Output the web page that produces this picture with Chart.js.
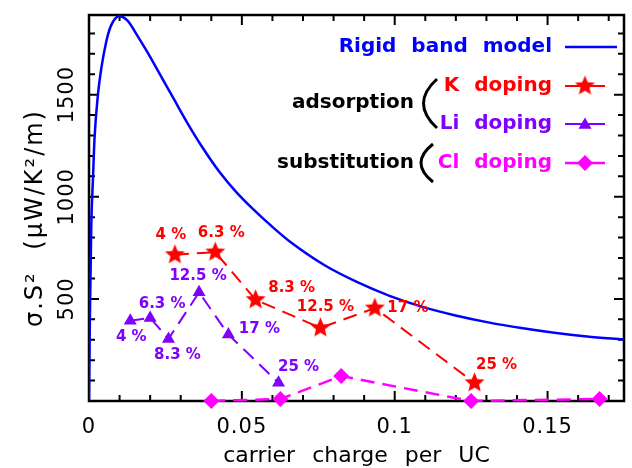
<!DOCTYPE html>
<html>
<head>
<meta charset="utf-8">
<script src="https://cdn.jsdelivr.net/npm/chart.js@4/dist/chart.umd.min.js"></script>
<style>
  html, body { margin: 0; padding: 0; background: #fff; }
  canvas { display: block; }
</style>
</head>
<body>
<canvas id="chart" width="632" height="468"></canvas>
<script>
// rigid band model curve
const rigidX = [0, 0.0003, 0.00075, 0.0013, 0.0018, 0.0029, 0.004, 0.0056, 0.0072, 0.0099, 0.0126,
  0.0158, 0.0191, 0.0234, 0.0277, 0.032, 0.0374, 0.0427, 0.0481, 0.0535, 0.0611, 0.066, 0.0768,
  0.0876, 0.0983, 0.1091, 0.1199, 0.1306, 0.1414, 0.1522, 0.1629, 0.1748];
const rigidY = [0, 420, 861, 1089, 1284, 1496, 1626, 1757, 1838, 1884, 1862,
  1789, 1708, 1594, 1480, 1366, 1235, 1121, 1024, 942, 838, 777, 667,
  583, 515, 461, 419, 385, 357, 334, 316, 301];

// K doping (adsorption)
const kX = [0.0281, 0.0413, 0.0545, 0.0757, 0.0935, 0.1261];
const kY = [716, 729, 496, 358, 455, 89];
const kLabels = ["4 %", "6.3 %", "8.3 %", "12.5 %", "17 %", "25 %"];

// Li doping (adsorption)
const liX = [0.0135, 0.020, 0.026, 0.036, 0.0456, 0.062];
const liY = [393, 407, 304, 532, 325, 89];
const liLabels = ["4 %", "6.3 %", "8.3 %", "12.5 %", "17 %", "25 %"];

// Cl doping (substitution)
const clX = [0.040, 0.0626, 0.0825, 0.125, 0.167];
const clY = [0, 10, 122, 0, 10];

// axes
const xTicks = [0, 0.05, 0.1, 0.15];
const xTickLabels = ["0", "0.05", "0.1", "0.15"];
const yTicks = [500, 1000, 1500];
const yTickLabels = ["500", "1000", "1500"];

const BLUE = "#0000ff", RED = "#ff0000", PURPLE = "#7f00ff", MAGENTA = "#ff00ff";
const FONT = "'DejaVu Sans', sans-serif";

// label offsets from their point, in pixels
const kLabelOffsets = [[-4, -20], [6, -19], [36, -12], [5, -21], [33, 0], [22, -18]];
const liLabelOffsets = [[1, 16], [12, -14], [9, 16], [-1, -16], [31, -6], [20, -16]];

function starImage(r, color) {
  const c = document.createElement("canvas");
  const s = Math.ceil(r * 2 + 2);
  c.width = c.height = s;
  const g = c.getContext("2d");
  g.fillStyle = color;
  g.beginPath();
  for (let i = 0; i < 10; i++) {
    const rad = i % 2 ? r * 0.45 : r;
    const ang = -Math.PI / 2 + i * Math.PI / 5;
    g.lineTo(s / 2 + rad * Math.cos(ang), s / 2 + rad * Math.sin(ang));
  }
  g.closePath();
  g.fill();
  return c;
}
const star = starImage(10.5, RED);

const pts = (xs, ys) => xs.map((x, i) => ({ x, y: ys[i] }));

function drawTri(ctx, x, y, r, color) {
  ctx.fillStyle = color;
  ctx.beginPath();
  for (let i = 0; i < 3; i++) {
    const a = i * 2 * Math.PI / 3;
    ctx.lineTo(x + Math.sin(a) * r, y - Math.cos(a) * r);
  }
  ctx.closePath();
  ctx.fill();
}
function drawDiamond(ctx, x, y, r, color) {
  ctx.fillStyle = color;
  ctx.beginPath();
  ctx.moveTo(x, y - r); ctx.lineTo(x + r, y); ctx.lineTo(x, y + r); ctx.lineTo(x - r, y);
  ctx.closePath();
  ctx.fill();
}
function brace(ctx, x0, y0, cx, x1, y1) {
  ctx.beginPath();
  ctx.moveTo(x0, y0);
  ctx.quadraticCurveTo(cx, (y0 + y1) / 2, x1, y1);
  ctx.stroke();
}

const decor = {
  id: "decor",
  beforeDatasetsDraw(chart) {
    const { ctx, chartArea: a, scales: { x, y } } = chart;
    ctx.save();
    ctx.strokeStyle = "#000";
    ctx.lineWidth = 2;
    // inward ticks on all four sides
    for (let i = 0; i * 0.01 <= x.max + 1e-9; i++) {
      const px = x.getPixelForValue(i * 0.01);
      const len = i % 5 === 0 ? 10 : 6;
      ctx.beginPath();
      ctx.moveTo(px, a.bottom); ctx.lineTo(px, a.bottom - len);
      ctx.moveTo(px, a.top); ctx.lineTo(px, a.top + len);
      ctx.stroke();
    }
    for (let i = 0; i * 100 <= y.max; i++) {
      const py = y.getPixelForValue(i * 100);
      const len = i % 5 === 0 ? 10 : 6;
      ctx.beginPath();
      ctx.moveTo(a.left, py); ctx.lineTo(a.left + len, py);
      ctx.moveTo(a.right, py); ctx.lineTo(a.right - len, py);
      ctx.stroke();
    }
    ctx.lineWidth = 2.5;
    ctx.strokeRect(a.left, a.top, a.right - a.left, a.bottom - a.top);

    // tick labels
    ctx.fillStyle = "#000";
    ctx.font = "21px " + FONT;
    ctx.letterSpacing = "1px";
    ctx.textAlign = "center";
    ctx.textBaseline = "alphabetic";
    xTicks.forEach((v, i) => ctx.fillText(xTickLabels[i], x.getPixelForValue(v), 433));
    yTicks.forEach((v, i) => {
      ctx.save();
      ctx.translate(73, y.getPixelForValue(v));
      ctx.rotate(-Math.PI / 2);
      ctx.fillText(yTickLabels[i], 0, 0);
      ctx.restore();
    });
    // axis titles
    ctx.font = "22px " + FONT;
    ctx.letterSpacing = "0px";
    ctx.wordSpacing = "10px";
    ctx.fillText("carrier charge per UC", (a.left + a.right) / 2, 462);
    ctx.save();
    ctx.translate(42, 218);
    ctx.rotate(-Math.PI / 2);
    ctx.font = "24px " + FONT;
    ctx.letterSpacing = "2px";
    ctx.wordSpacing = "12px";
    ctx.fillText("\u03c3.S\u00b2 (\u03bcW/K\u00b2/m)", 0, 0);
    ctx.restore();
    ctx.restore();
  },
  afterDatasetsDraw(chart) {
    const { ctx, scales: { x, y } } = chart;
    ctx.save();
    ctx.font = "bold 15px " + FONT;
    ctx.textAlign = "center";
    ctx.textBaseline = "middle";
    ctx.fillStyle = RED;
    kLabels.forEach((t, i) => ctx.fillText(t, x.getPixelForValue(kX[i]) + kLabelOffsets[i][0], y.getPixelForValue(kY[i]) + kLabelOffsets[i][1]));
    ctx.fillStyle = PURPLE;
    liLabels.forEach((t, i) => ctx.fillText(t, x.getPixelForValue(liX[i]) + liLabelOffsets[i][0], y.getPixelForValue(liY[i]) + liLabelOffsets[i][1]));

    // legend
    ctx.font = "bold 20px " + FONT;
    ctx.wordSpacing = "8px";
    ctx.textAlign = "right";
    const rows = [["Rigid band model", BLUE, 47], ["K doping", RED, 86], ["Li doping", PURPLE, 124], ["Cl doping", MAGENTA, 163]];
    rows.forEach(([t, c, yy]) => { ctx.fillStyle = c; ctx.fillText(t, 552, yy); });
    ctx.fillStyle = "#000";
    ctx.fillText("adsorption", 414, 103);
    ctx.fillText("substitution", 414, 163);
    ctx.strokeStyle = "#000";
    ctx.lineWidth = 3;
    brace(ctx, 437, 79, 410, 437, 128);
    brace(ctx, 433, 144, 409, 433, 182);

    ctx.lineWidth = 2.5;
    ctx.strokeStyle = BLUE;
    ctx.beginPath(); ctx.moveTo(565, 47); ctx.lineTo(617, 47); ctx.stroke();
    ctx.lineWidth = 2;
    ctx.strokeStyle = RED;
    ctx.beginPath(); ctx.moveTo(565, 86); ctx.lineTo(605, 86); ctx.stroke();
    ctx.drawImage(star, 585 - star.width / 2, 86 - star.height / 2);
    ctx.strokeStyle = PURPLE;
    ctx.beginPath(); ctx.moveTo(565, 124); ctx.lineTo(605, 124); ctx.stroke();
    drawTri(ctx, 585, 125, 7.5, PURPLE);
    ctx.strokeStyle = MAGENTA;
    ctx.lineWidth = 2.5;
    ctx.beginPath(); ctx.moveTo(565, 163); ctx.lineTo(605, 163); ctx.stroke();
    drawDiamond(ctx, 585, 163, 8, MAGENTA);
    ctx.restore();
  }
};

new Chart(document.getElementById("chart"), {
  type: "scatter",
  data: {
    datasets: [
      {
        label: "Cl doping",
        data: pts(clX, clY),
        showLine: true,
        borderColor: MAGENTA,
        backgroundColor: MAGENTA,
        borderWidth: 2.5,
        borderDash: [14, 8],
        pointStyle: "rectRot",
        pointRadius: 8,
        pointBorderWidth: 0,
        clip: false
      },
      {
        label: "Li doping",
        data: pts(liX, liY),
        showLine: true,
        borderColor: PURPLE,
        backgroundColor: PURPLE,
        borderWidth: 2,
        borderDash: [14, 8],
        pointStyle: "triangle",
        pointRadius: 7.5,
        pointBorderWidth: 0,
        clip: false
      },
      {
        label: "K doping",
        data: pts(kX, kY),
        showLine: true,
        borderColor: RED,
        backgroundColor: RED,
        borderWidth: 2,
        borderDash: [14, 8],
        pointStyle: star,
        clip: false
      },
      {
        label: "Rigid band model",
        data: pts(rigidX, rigidY),
        showLine: true,
        borderColor: BLUE,
        borderWidth: 2.5,
        pointRadius: 0,
        cubicInterpolationMode: "monotone"
      }
    ]
  },
  options: {
    responsive: false,
    animation: false,
    devicePixelRatio: 1,
    layout: { padding: { left: 89, right: 2, top: 15, bottom: 67 } },
    plugins: { legend: { display: false }, tooltip: { enabled: false } },
    scales: {
      x: { type: "linear", min: 0, max: 0.175, display: false },
      y: { type: "linear", min: 0, max: 1890, display: false }
    }
  },
  plugins: [decor]
});
</script>
</body>
</html>
